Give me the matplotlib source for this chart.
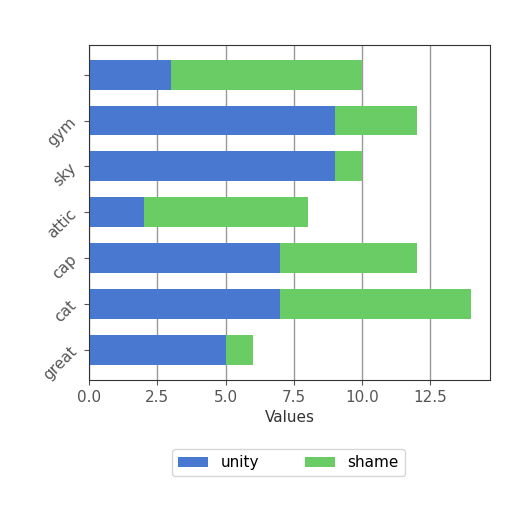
import matplotlib.pyplot as plt
from matplotlib.ticker import MultipleLocator

categories = ['great', 'cat', 'cap', 'attic', 'sky', 'gym', '']
unity = [5, 7, 7, 2, 9, 9, 3]
shame = [1, 7, 5, 6, 1, 3, 7]

fig = plt.figure(figsize=(5.12, 5.12), dpi=100)
ax = fig.add_axes([0.174, 0.258, 0.784, 0.655])

ax.barh(categories, unity, height=0.65, color='#4878d0', label='unity', zorder=2)
ax.barh(categories, shame, left=unity, height=0.65, color='#6acc64', label='shame', zorder=2)

ax.xaxis.set_major_locator(MultipleLocator(2.5))
ax.grid(axis='x', color='#999999', linewidth=1.0, zorder=0)
ax.set_axisbelow(True)
ax.set_xlabel('Values', fontsize=11, color='#333333')
ax.tick_params(axis='both', labelsize=11, colors='#555555')
plt.setp(ax.get_yticklabels(), rotation=45)
for s in ax.spines.values():
    s.set_color('#333333')

fig.legend(loc='center', bbox_to_anchor=(0.563, 0.096), ncol=2, fontsize=11,
           frameon=True, columnspacing=3.0)

fig.savefig('out.png', dpi=100)
